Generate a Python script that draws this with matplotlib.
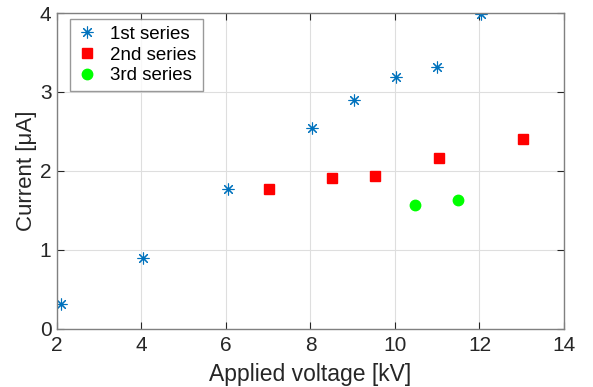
import numpy as np
import matplotlib.pyplot as plt

plt.rcParams['font.family'] = ['Liberation Sans', 'DejaVu Sans']

# 1st series
x1 = [2.1, 4.03, 6.05, 8.04, 9.03, 10.02, 11.0, 12.03]
y1 = [0.32, 0.90, 1.77, 2.54, 2.90, 3.19, 3.32, 3.99]
# 2nd series
x2 = [7.02, 8.5, 9.52, 11.05, 13.02]
y2 = [1.77, 1.91, 1.94, 2.16, 2.40]
# 3rd series
x3 = [10.48, 11.5]
y3 = [1.57, 1.63]

fig = plt.figure(figsize=(5.93, 3.87), dpi=100)
ax = fig.add_axes([0.0961, 0.1499, 0.855, 0.8165])

ax.plot(x1, y1, linestyle='None', marker=(8, 2, 0), color='#0072BD', markersize=8.5,
        markeredgewidth=0.8, label='1st series')
ax.plot(x2, y2, linestyle='None', marker='s', color='red', markersize=6.5,
        label='2nd series')
ax.plot(x3, y3, linestyle='None', marker='o', color='#00FF00', markersize=7.5,
        label='3rd series')

ax.set_xlim(2, 14)
ax.set_ylim(0, 4)
ax.set_xticks([2, 4, 6, 8, 10, 12, 14])
ax.set_yticks([0, 1, 2, 3, 4])
ax.grid(True, color='#dedede', linewidth=0.8)
ax.set_axisbelow(True)
ax.tick_params(direction='in', top=True, right=True, labelsize=15, colors='#262626',
               length=5, width=0.8, pad=5)
ax.tick_params(axis='y', pad=4)
for s in ax.spines.values():
    s.set_color('#808080')
    s.set_linewidth(1)

ax.set_xlabel('Applied voltage [kV]', fontsize=16.5, color='#262626', labelpad=6)
ax.set_ylabel('Current [μA]', fontsize=16, color='#262626', labelpad=2)

leg = ax.legend(loc='upper left', fontsize=13.5, frameon=True, fancybox=False,
                edgecolor='#808080', borderpad=0.35, handlelength=1.2,
                handletextpad=0.6, labelspacing=0.2, borderaxespad=0,
                bbox_to_anchor=(0.0247, 0.981))
leg.get_frame().set_linewidth(1)

fig.savefig('out.png', dpi=100)
